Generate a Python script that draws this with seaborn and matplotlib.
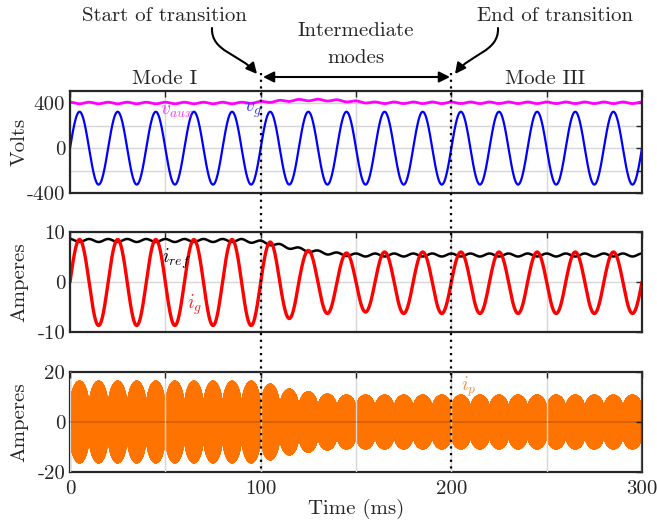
import numpy as np
import pandas as pd
import matplotlib
matplotlib.use("Agg")
import matplotlib.pyplot as plt
import seaborn as sns
from matplotlib.lines import Line2D
from matplotlib.patches import FancyArrowPatch
from matplotlib.path import Path

# ---------------------------------------------------------------------------
# Waveform readings (50 Hz grid, 300 ms record)
# ---------------------------------------------------------------------------
T_END_MS = 300.0
F_GRID_HZ = 50.0

# Grid voltage peak per fundamental cycle (V)
vg_peak = [325] * 15

# Auxiliary (DC-link) voltage: mean level per 100 Hz ripple period (V)
vaux_level = [403] * 10 + [410, 420, 428, 430, 425, 415] + [405] * 14
vaux_ripple = 7.0

# Current reference: mean level per 100 Hz ripple period (A)
iref_level = [8.3] * 10 + [8.0, 7.3, 6.6, 6.0, 5.6] + [5.4] * 15
iref_ripple = 0.3

# Grid current: peak magnitude per half cycle (A)
ig_half_peak = [8.5, 8.7] * 5 + [8.0, 7.3, 6.3, 6.3, 5.8, 6.0] + [6.0, 6.3] * 7

# Converter current: envelope peak per 10 ms lobe and notch depth (A)
ip_lobe_peak = [16.4] * 10 + [15.2, 13.2, 12.1, 11.2] + [10.8] * 16
ip_notch = 5.0
ip_switch_khz = 10.0

# Mode boundaries (ms)
t_start_transition = 100
t_end_transition = 200

# ---------------------------------------------------------------------------
# Build time series
# ---------------------------------------------------------------------------
T_ms = 1000.0 / F_GRID_HZ
t = np.arange(0, T_END_MS + 1e-9, 0.05)

k = np.minimum((t // T_ms).astype(int), len(vg_peak) - 1)
v_g = np.asarray(vg_peak)[k] * np.sin(2 * np.pi * t / T_ms)

h = np.minimum((t // (T_ms / 2)).astype(int), len(ig_half_peak) - 1)
i_g = np.asarray(ig_half_peak)[h] * np.sin(2 * np.pi * t / T_ms)

phi = t / (T_ms / 2) - h


def ripple_series(levels, ripple):
    lv = np.asarray(levels + [levels[-1]], dtype=float)
    base = lv[h] + (lv[h + 1] - lv[h]) * phi
    return base + ripple * np.cos(2 * np.pi * phi)


v_aux = ripple_series(vaux_level, vaux_ripple)
i_ref = ripple_series(iref_level, iref_ripple)

t_p = np.arange(0, T_END_MS + 1e-9, 1.0 / (4 * ip_switch_khz))
m = np.minimum((t_p // 10.0).astype(int), len(ip_lobe_peak) - 1)
phi_p = t_p / 10.0 - m
env = ip_notch + (np.asarray(ip_lobe_peak)[m] - ip_notch) * 2 * np.sqrt(np.clip(phi_p * (1 - phi_p), 0, None))
i_p = env * np.sin(2 * np.pi * ip_switch_khz * t_p + np.pi / 2 * 0.999)

df = pd.DataFrame({"t": t, "v_g": v_g, "v_aux": v_aux, "i_g": i_g, "i_ref": i_ref})
df_p = pd.DataFrame({"t": t_p, "i_p": i_p})

# ---------------------------------------------------------------------------
# Figure
# ---------------------------------------------------------------------------
sns.set_theme(style="white")
plt.rcParams["font.family"] = ["cmr10", "DejaVu Serif"]
plt.rcParams["mathtext.fontset"] = "cm"
plt.rcParams["axes.formatter.use_mathtext"] = True
plt.rcParams["axes.unicode_minus"] = False

W, H = 657, 520
fig = plt.figure(figsize=(W / 100, H / 100), dpi=100)


def px_axes(x0, y0, x1, y1):
    return fig.add_axes([x0 / W, 1 - y1 / H, (x1 - x0) / W, (y1 - y0) / H])


ax1 = px_axes(70, 91, 642, 193)
ax2 = px_axes(70, 232, 642, 332)
ax3 = px_axes(70, 372, 642, 472)

FS = 15
DARK = "#262626"

sns.lineplot(data=df, x="t", y="v_aux", ax=ax1, color="#ff00ff", linewidth=2.0, estimator=None, sort=False)
sns.lineplot(data=df, x="t", y="v_g", ax=ax1, color="#0000ff", linewidth=1.6, estimator=None, sort=False)

sns.lineplot(data=df, x="t", y="i_ref", ax=ax2, color="black", linewidth=1.8, estimator=None, sort=False)
sns.lineplot(data=df, x="t", y="i_g", ax=ax2, color="#ff0000", linewidth=2.4, estimator=None, sort=False)

sns.lineplot(data=df_p, x="t", y="i_p", ax=ax3, color="#ff7300", linewidth=0.8, estimator=None, sort=False)
ax3.axhline(0, color="black", alpha=0.18, lw=1.2, zorder=3)

xticks = [0, 50, 100, 150, 200, 250, 300]
for ax in (ax1, ax2, ax3):
    ax.set_xlim(0, T_END_MS)
    ax.set_xticks(xticks)
    ax.set_xticklabels([])
    ax.set_xlabel("")
    ax.tick_params(direction="in", top=True, right=True, length=4, width=1,
                   colors=DARK, labelsize=FS, pad=3.5)
    ax.tick_params(axis="x", pad=5.5)
    for sp in ax.spines.values():
        sp.set_color(DARK)
        sp.set_linewidth(1.6)
    ax.grid(True, color="#d6d6d6", linewidth=1.0)
    ax.set_axisbelow(True)

ax1.set_ylim(-400, 510)
ax1.set_yticks([-400, -200, 0, 200, 400])
ax1.set_yticklabels(["-400", "", "0", "", "400"])
ax1.set_ylabel("Volts", fontsize=FS)

ax2.set_ylim(-10, 10)
ax2.set_yticks([-10, 0, 10])
ax2.set_yticklabels(["-10", "0", "10"])
ax2.set_ylabel("Amperes", fontsize=FS)

ax3.set_ylim(-20, 20)
ax3.set_yticks([-20, 0, 20])
ax3.set_yticklabels(["-20", "0", "20"])
ax3.set_ylabel("Amperes", fontsize=FS)
ax3.yaxis.grid(False)
ax3.set_axisbelow(False)
ax3.set_xticklabels(["0", "", "100", "", "200", "", "300"])
ax3.set_xlabel("Time (ms)", fontsize=FS)
ax3.xaxis.set_label_coords(0.5, -0.27)

for ax in (ax1, ax2, ax3):
    ax.yaxis.set_label_coords(-0.072, 0.5)

# Series labels
ax1.text(47, 335, r"$v_{aux}$", color="#ff33ff", fontsize=14, va="center", ha="left")
ax1.text(91.5, 335, r"$v_g$", color="#3333ff", fontsize=14, va="center", ha="left")
ax2.text(48.5, 4.7, r"$i_{ref}$", color="black", fontsize=14, va="center", ha="left")
ax2.text(61.5, -4.5, r"$i_g$", color="#ff2020", fontsize=14, va="center", ha="left")
ax3.text(205, 14.0, r"$i_p$", color="#ff8c3a", fontsize=14, va="center", ha="left")

# Mode boundaries spanning all panels
x0f, wf = 70 / W, 572 / W
for tb in (t_start_transition, t_end_transition):
    xf = x0f + wf * tb / T_END_MS
    fig.add_artist(Line2D([xf, xf], [1 - 73 / H, 1 - 472 / H], transform=fig.transFigure,
                          color="black", linestyle=(0, (1, 2)), linewidth=1.6, zorder=5))


def fpt(x, y):
    return (x / W, 1 - y / H)


fig.text(*fpt(164, 16), "Start of transition", fontsize=FS, ha="center", va="center")
fig.text(*fpt(555, 16), "End of transition", fontsize=FS, ha="center", va="center")
fig.text(*fpt(356, 31), "Intermediate", fontsize=FS, ha="center", va="center")
fig.text(*fpt(356, 58), "modes", fontsize=FS, ha="center", va="center")
fig.text(*fpt(165, 79), "Mode I", fontsize=FS, ha="center", va="center")
fig.text(*fpt(545, 79), "Mode III", fontsize=FS, ha="center", va="center")

arrow_kw = dict(transform=fig.transFigure, color="black", linewidth=1.5, mutation_scale=16)


def curved_pointer(pts):
    verts = [fpt(*p) for p in pts]
    path = Path(verts, [Path.MOVETO, Path.CURVE4, Path.CURVE4, Path.CURVE4])
    return FancyArrowPatch(path=path, arrowstyle="-|>", **arrow_kw)


fig.add_artist(curved_pointer([(212, 28), (211, 52), (240, 54), (257, 74)]))
fig.add_artist(curved_pointer([(498, 28), (499, 52), (470, 54), (455, 74)]))
fig.add_artist(FancyArrowPatch(fpt(263, 77), fpt(450, 77), arrowstyle="<|-|>",
                               connectionstyle="arc3,rad=0", shrinkA=0, shrinkB=0,
                               **arrow_kw))

fig.savefig("out.png", dpi=100)
